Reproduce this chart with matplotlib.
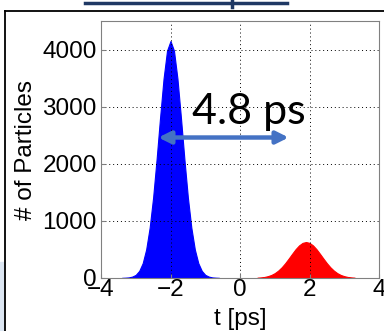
import matplotlib
matplotlib.use('Agg')
import matplotlib.pyplot as plt
from matplotlib.lines import Line2D
from matplotlib.patches import Rectangle

# Data (counts per 0.1 ps bin)
t_blue = [-3.4, -3.3, -3.2, -3.1, -3.0, -2.9, -2.8, -2.7, -2.6, -2.5, -2.4, -2.3, -2.2, -2.1, -2.0,
          -1.9, -1.8, -1.7, -1.6, -1.5, -1.4, -1.3, -1.2, -1.1, -1.0, -0.9, -0.8, -0.7, -0.6]
n_blue = [2, 5, 10, 25, 55, 125, 260, 500, 880, 1410, 2080, 2810, 3490, 3980, 4150,
          3980, 3490, 2810, 2080, 1410, 880, 500, 260, 125, 55, 25, 10, 5, 2]
t_red = [0.5, 0.6, 0.7, 0.8, 0.9, 1.0, 1.1, 1.2, 1.3, 1.4, 1.5, 1.6, 1.7, 1.8,
         1.9, 2.0, 2.1, 2.2, 2.3, 2.4, 2.5, 2.6, 2.7, 2.8, 2.9, 3.0, 3.1, 3.2, 3.3]
n_red = [5, 10, 18, 32, 53, 85, 130, 188, 259, 340, 424, 505, 571, 615, 630,
         615, 571, 505, 424, 340, 259, 188, 130, 85, 53, 32, 18, 10, 5]

xticks = [-4, -2, 0, 2, 4]
yticks = [0, 1000, 2000, 3000, 4000]
sep_start, sep_end, sep_y = -2.35, 1.4, 2460
sep_label = '4.8 ps'

fig = plt.figure(figsize=(3.84, 3.31), dpi=100)

# slide decorations around the chart
fig.patches.append(Rectangle((0, 0), 4/384, (331-262)/331, transform=fig.transFigure,
                             color='#dce6f2', zorder=0))
fig.lines.append(Line2D([85/384, 287/384], [1-3/331, 1-3/331], transform=fig.transFigure,
                        color='#1f3864', lw=2.5))
fig.lines.append(Line2D([232/384, 232/384], [1-7/331, 1.0], transform=fig.transFigure,
                        color='#1f3864', lw=2.5))
fig.lines.append(Line2D([4.5/384, 384/384], [1-10.5/331, 1-10.5/331], transform=fig.transFigure,
                        color='black', lw=1.3))
fig.lines.append(Line2D([4.5/384, 4.5/384], [0, 1-10.5/331], transform=fig.transFigure,
                        color='black', lw=1.3))

ax = fig.add_axes([101/384, 53/331, 278/384, 257/331])
ax.fill_between(t_blue, n_blue, color='blue', lw=0.8, edgecolor='blue')
ax.fill_between(t_red, n_red, color='red', lw=0.8, edgecolor='red')

ax.set_xlim(-4, 4)
ax.set_ylim(0, 4500)
ax.set_xticks(xticks)
ax.set_yticks(yticks)
ax.grid(True, color='black', linestyle=(0, (1, 3)), lw=0.7)
ax.tick_params(direction='in', labelsize=17.5, length=3, color='#808080')
ax.tick_params(axis='x', pad=1)
ax.tick_params(axis='y', pad=3)
for s in ax.spines.values():
    s.set_color('#808080')
for lab in ax.get_xticklabels() + ax.get_yticklabels():
    lab.set_family('Liberation Sans')
ax.set_xlabel('t [ps]', fontsize=17.5, family='Liberation Sans', labelpad=5)
ax.set_ylabel('# of Particles', fontsize=17.5, family='Liberation Sans', labelpad=4)

ax.annotate('', xy=(sep_start, sep_y), xytext=(sep_end, sep_y),
            arrowprops=dict(arrowstyle='<|-|>', color='#4472c4', lw=3.2,
                            mutation_scale=18, shrinkA=0, shrinkB=0))
ax.text(-1.37, 2700, sep_label, fontsize=31, family='Lato', color='black')

fig.savefig('out.png', dpi=100)
